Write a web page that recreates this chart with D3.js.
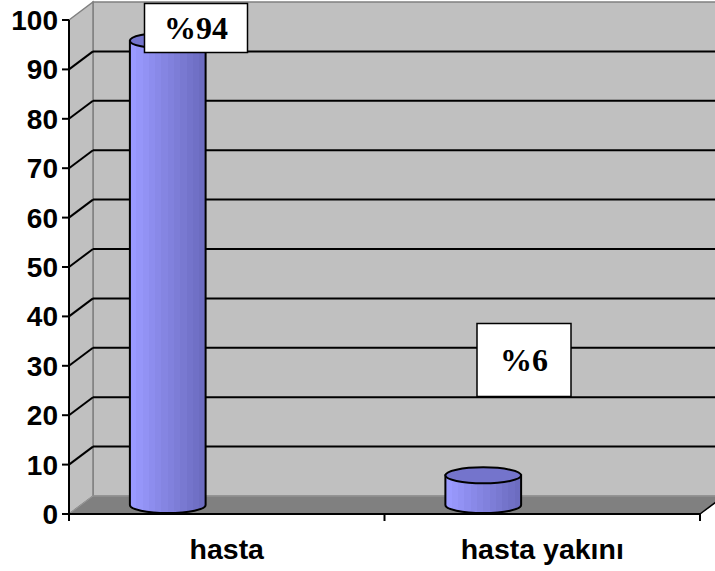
<!DOCTYPE html>
<html>
<head>
<meta charset="utf-8">
<script src="https://cdn.jsdelivr.net/npm/d3@7"></script>
<style>
  body { margin: 0; background: #fff; }
  svg { display: block; }
</style>
</head>
<body>
<div id="vis"></div>
<script>
// data
const categories = ['hasta', 'hasta yakını'];
const values = [94, 6];
const labels = ['%94', '%6'];
const yTicks = [0, 10, 20, 30, 40, 50, 60, 70, 80, 90, 100];

const FRAME_WIDTH = 715;
const FRAME_HEIGHT = 571;
const DEPTH = {dx: 24, dy: -18};

// label boxes (x centre, y centre, w, h)
const BOXES = [{cx: 196, cy: 28, w: 103, h: 49},
               {cx: 524, cy: 360, w: 94, h: 73}];

const svg = d3.select('#vis')
    .append('svg')
        .attr('width', FRAME_WIDTH)
        .attr('height', FRAME_HEIGHT);

const X_SCALE = d3.scaleBand()
    .domain(categories)
    .range([69, 700])
    .padding(0);

const Y_SCALE = d3.scaleLinear()
    .domain([0, 100])
    .range([514, 20]);

const x0 = X_SCALE.range()[0];
const x1 = X_SCALE.range()[1];
const yTop = Y_SCALE(100);
const yBot = Y_SCALE(0);

// back wall
svg.append('rect')
    .attr('x', x0 + DEPTH.dx)
    .attr('y', yTop + DEPTH.dy)
    .attr('width', x1 - x0)
    .attr('height', yBot - yTop)
    .attr('fill', '#c0c0c0')
    .attr('stroke', '#808080')
    .attr('stroke-width', 1.5);

// side wall
svg.append('polygon')
    .attr('points', [[x0, yTop], [x0 + DEPTH.dx, yTop + DEPTH.dy],
                     [x0 + DEPTH.dx, yBot + DEPTH.dy], [x0, yBot]].join(' '))
    .attr('fill', '#c0c0c0')
    .attr('stroke', '#808080')
    .attr('stroke-width', 1.5);

// floor
svg.append('polygon')
    .attr('points', [[x0, yBot], [x1, yBot],
                     [x1 + DEPTH.dx, yBot + DEPTH.dy], [x0 + DEPTH.dx, yBot + DEPTH.dy]].join(' '))
    .attr('fill', '#808080')
    .attr('stroke', '#999999')
    .attr('stroke-width', 1);

// gridlines on back wall and side wall
const grid = yTicks.filter(d => d > 0 && d < 100);
svg.selectAll('.gridBack')
    .data(grid)
    .enter()
    .append('line')
        .attr('x1', x0 + DEPTH.dx)
        .attr('x2', x1 + DEPTH.dx)
        .attr('y1', d => Y_SCALE(d) + DEPTH.dy)
        .attr('y2', d => Y_SCALE(d) + DEPTH.dy)
        .attr('stroke', '#000')
        .attr('stroke-width', 2);

svg.selectAll('.gridSide')
    .data(grid)
    .enter()
    .append('line')
        .attr('x1', x0)
        .attr('x2', x0 + DEPTH.dx)
        .attr('y1', d => Y_SCALE(d))
        .attr('y2', d => Y_SCALE(d) + DEPTH.dy)
        .attr('stroke', '#000')
        .attr('stroke-width', 2);

// floor right edge
svg.append('line')
    .attr('x1', x1).attr('y1', yBot)
    .attr('x2', x1 + DEPTH.dx).attr('y2', yBot + DEPTH.dy)
    .attr('stroke', '#000').attr('stroke-width', 1.5);

// cylinder gradient with banded shading
const defs = svg.append('defs');
const grad = defs.append('linearGradient')
    .attr('id', 'cyl')
    .attr('x1', '0%').attr('x2', '100%')
    .attr('y1', '0%').attr('y2', '0%');
const shade = d3.interpolateRgb('#9a9aff', '#6c6cc0');
const BANDS = 12;
d3.range(BANDS).forEach(i => {
    grad.append('stop').attr('offset', (i / BANDS * 100) + '%').attr('stop-color', shade(i / (BANDS - 1)));
    grad.append('stop').attr('offset', ((i + 1) / BANDS * 100) + '%').attr('stop-color', shade(i / (BANDS - 1)));
});

// cylinders, standing at mid depth
const bw = X_SCALE.bandwidth();
const cylW = bw * 0.24;
const ry = 8;
const midDy = DEPTH.dy / 2;
const cylLeft = d => X_SCALE(d) + bw * 0.193;

const cyl = svg.selectAll('.cyl')
    .data(categories)
    .enter()
    .append('g');

cyl.append('path')
    .attr('d', (d, i) => {
        const left = cylLeft(d);
        const right = left + cylW;
        const rx = cylW / 2;
        const top = Y_SCALE(values[i]) + midDy;
        const base = yBot + midDy;
        return 'M' + left + ',' + top + 'L' + left + ',' + base +
               'A' + rx + ',' + ry + ' 0 0 0 ' + right + ',' + base +
               'L' + right + ',' + top + 'Z';
    })
    .attr('fill', 'url(#cyl)')
    .attr('stroke', '#000')
    .attr('stroke-width', 2);

cyl.append('ellipse')
    .attr('cx', d => cylLeft(d) + cylW / 2)
    .attr('cy', (d, i) => Y_SCALE(values[i]) + midDy)
    .attr('rx', cylW / 2)
    .attr('ry', ry)
    .attr('fill', '#7474cc')
    .attr('stroke', '#000')
    .attr('stroke-width', 2);

// front axes
svg.append('line')
    .attr('x1', x0).attr('x2', x0)
    .attr('y1', yTop).attr('y2', yBot + 7)
    .attr('stroke', '#000').attr('stroke-width', 2);
svg.append('line')
    .attr('x1', x0).attr('x2', x1)
    .attr('y1', yBot).attr('y2', yBot)
    .attr('stroke', '#000').attr('stroke-width', 2);

svg.selectAll('.ytick')
    .data(yTicks)
    .enter()
    .append('line')
        .attr('x1', x0 - 7).attr('x2', x0)
        .attr('y1', d => Y_SCALE(d)).attr('y2', d => Y_SCALE(d))
        .attr('stroke', '#000').attr('stroke-width', 2);

svg.selectAll('.ylab')
    .data(yTicks)
    .enter()
    .append('text')
        .attr('x', x0 - 11)
        .attr('y', d => Y_SCALE(d))
        .attr('dy', '0.36em')
        .attr('text-anchor', 'end')
        .attr('font-family', 'Liberation Sans, Arial, sans-serif')
        .attr('font-weight', 'bold')
        .attr('font-size', '28px')
        .text(d => d);

const xTickPos = [x0, ...categories.map(c => X_SCALE(c) + bw)];
svg.selectAll('.xtick')
    .data(xTickPos)
    .enter()
    .append('line')
        .attr('x1', d => d).attr('x2', d => d)
        .attr('y1', yBot).attr('y2', yBot + 7)
        .attr('stroke', '#000').attr('stroke-width', 2);

svg.selectAll('.xlab')
    .data(categories)
    .enter()
    .append('text')
        .attr('x', d => X_SCALE(d) + bw / 2)
        .attr('y', 559)
        .attr('text-anchor', 'middle')
        .attr('font-family', 'Liberation Sans, Arial, sans-serif')
        .attr('font-weight', 'bold')
        .attr('font-size', '28.5px')
        .text(d => d);

// data labels
const lab = svg.selectAll('.lab')
    .data(labels)
    .enter()
    .append('g');

lab.append('rect')
    .attr('x', (d, i) => BOXES[i].cx - BOXES[i].w / 2)
    .attr('y', (d, i) => BOXES[i].cy - BOXES[i].h / 2)
    .attr('width', (d, i) => BOXES[i].w)
    .attr('height', (d, i) => BOXES[i].h)
    .attr('fill', '#fff')
    .attr('stroke', '#000')
    .attr('stroke-width', 1.5);

lab.append('text')
    .attr('x', (d, i) => BOXES[i].cx)
    .attr('y', (d, i) => BOXES[i].cy)
    .attr('dy', '0.35em')
    .attr('text-anchor', 'middle')
    .attr('font-family', 'Liberation Serif, Times New Roman, serif')
    .attr('font-weight', 'bold')
    .attr('font-size', '32px')
    .text(d => d);
</script>
</body>
</html>
